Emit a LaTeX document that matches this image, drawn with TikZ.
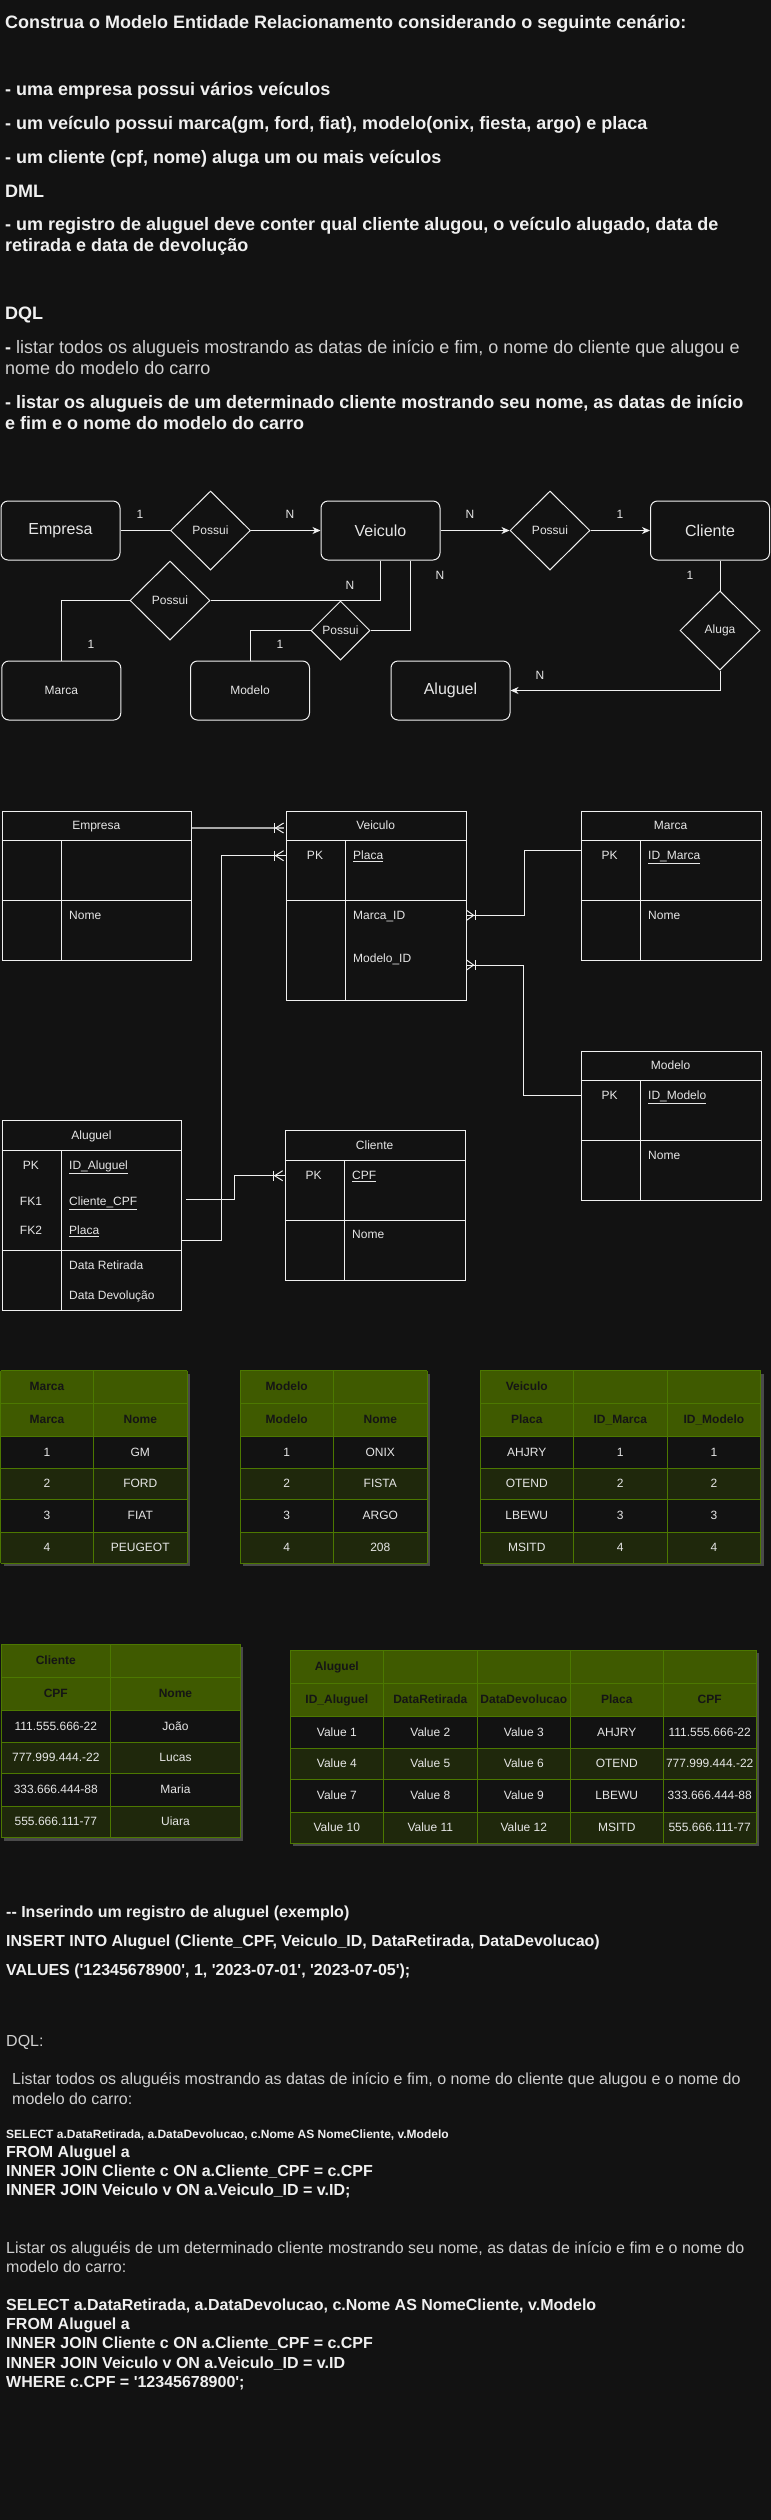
\documentclass[tikz,border=0pt]{standalone}
\usepackage{fontspec}
\setmainfont{Liberation Sans}
\usetikzlibrary{shapes.geometric,arrows.meta,calc}
\definecolor{bg}{HTML}{121212}
\definecolor{fg}{HTML}{F0F0F0}
\definecolor{greyln}{HTML}{A8A8A8}
\definecolor{txt}{HTML}{E6E6E6}
\definecolor{soft}{HTML}{D0D0D0}
\definecolor{hdr}{HTML}{3F5A00}
\definecolor{grid}{HTML}{4C7800}
\definecolor{alt}{HTML}{1F280C}
\definecolor{shad}{HTML}{4A4A4A}
\definecolor{hdrtxt}{HTML}{151515}
\newcommand\myq{\textquotesingle}
\newcommand\tabbody[9]{%
  \fill[shad] (#1+3,#3+3) rectangle (#2+3,#9+3);
  \fill[bg] (#1,#3) rectangle (#2,#9);
  \fill[hdr] (#1,#3) rectangle (#2,#5);
  \fill[alt] (#1,#6) rectangle (#2,#7);
  \fill[alt] (#1,#8) rectangle (#2,#9);
  \foreach \yy in {#3,#4,#5,#6,#7,#8,#9} \draw[gl] (#1,\yy) -- (#2,\yy);
}
\tikzset{
  big/.style={anchor=base west, inner sep=0, text=fg, font=\fontsize{18}{21}\selectfont\bfseries},
  bigr/.style={big, text=soft, font=\fontsize{18}{21}\selectfont},
  mid/.style={anchor=base west, inner sep=0, text=fg, font=\fontsize{16}{19}\selectfont\bfseries},
  midr/.style={mid, text=soft, font=\fontsize{16}{19}\selectfont},
  small/.style={anchor=base west, inner sep=0, text=fg, font=\fontsize{12}{14}\selectfont\bfseries},
  ent/.style={draw=fg, line width=1pt, rounded corners=7pt, minimum width=119pt, minimum height=59pt, inner sep=0, text=txt, font=\fontsize{16}{19}\selectfont},
  entsm/.style={ent, font=\fontsize{12}{14}\selectfont},
  rel/.style={diamond, draw=fg, line width=1pt, aspect=1, inner sep=0, minimum width=80pt, minimum height=79pt, text=txt, font=\fontsize{12}{14}\selectfont},
  conn/.style={draw=fg, line width=1pt},
  arr/.style={conn, -{Stealth[length=8pt,width=7pt,inset=2.5pt]}},
  card/.style={text=txt, font=\fontsize{12}{14}\selectfont, inner sep=0},
  tb/.style={draw=fg, line width=1pt, inner sep=0, anchor=north west},
  tl/.style={draw=fg, line width=1pt},
  tt/.style={text=txt, font=\fontsize{12}{14}\selectfont, inner sep=0, text height=8.5pt, text depth=1pt},
  ttl/.style={text=txt, font=\fontsize{12}{14}\selectfont, inner sep=0, anchor=base west},
  hcell/.style={text=hdrtxt, font=\fontsize{12}{14}\selectfont\bfseries, inner sep=0, text height=8.5pt, text depth=1pt},
  dcell/.style={text=txt, font=\fontsize{12}{14}\selectfont, inner sep=0, text height=8.5pt, text depth=1pt},
  gl/.style={draw=grid, line width=1pt},
  crowL/.pic={\draw[conn] (-2,-5) -- (-10,0) -- (-2,5); \draw[conn] (-11,-5) -- (-11,5);},
  crowR/.pic={\draw[conn] (0,-5) -- (7,0) -- (0,5); \draw[conn] (8.5,-5) -- (8.5,5);},
}
\begin{document}
\begin{tikzpicture}[x=1pt,y=-1pt]
\useasboundingbox (0,0) rectangle (771,2520);
\fill[bg] (0,0) rectangle (771,2520);

% ---------- top text ----------
\node[big] (t1) at (5,28.7) {Construa o Modelo Entidade Relacionamento considerando o seguinte cenário:};
\node[big] (t2) at (5,95) {- uma empresa possui vários veículos};
\node[big] (t3) at (5,129) {- um veículo possui marca(gm, ford, fiat), modelo(onix, fiesta, argo) e placa};
\node[big] (t4) at (5,163) {- um cliente (cpf, nome) aluga um ou mais veículos};
\node[big] (t5) at (5,197) {DML};
\node[big] (t6) at (5,230) {- um registro de aluguel deve conter qual cliente alugou, o veículo alugado, data de};
\node[big] (t7) at (5,251) {retirada e data de devolução};
\node[big] (t8) at (5,319) {DQL};
\node[bigr] (t9) at (5,353) {{\bfseries\color{fg}-} listar todos os alugueis mostrando as datas de início e fim, o nome do cliente que alugou e};
\node[bigr] (t10) at (5,374) {nome do modelo do carro};
\node[big] (t11) at (5,408) {- listar os alugueis de um determinado cliente mostrando seu nome, as datas de início};
\node[big] (t12) at (5,429) {e fim e o nome do modelo do carro};

% ---------- conceptual ER ----------
\node[ent] (emp) at (60.5,530.5) {Empresa};
\node[rel] (p1) at (210.5,530.5) {Possui};
\node[ent] (veic) at (380.5,530.5) {Veiculo};
\node[rel] (p2) at (550,530.5) {Possui};
\node[ent] (cli) at (710,530.5) {Cliente};
\node[rel] (p3) at (170,600.5) {Possui};
\node[rel, minimum width=59pt, minimum height=59pt] (p4) at (340.5,630.5) {Possui};
\node[rel] (aluga) at (720,630.5) {Aluga};
\node[entsm] (marca) at (61.3,690.5) {Marca};
\node[entsm] (modelo) at (250,690.5) {Modelo};
\node[ent] (alug) at (450.5,690.5) {Aluguel};

\draw[conn] (emp.east) -- (p1.west);
\draw[arr] (p1.east) -- (veic.west);
\draw[arr] (veic.east) -- (p2.west);
\draw[arr] (p2.east) -- (cli.west);
\draw[conn] (veic.south) |- (p3.east);
\draw[conn] ([xshift=30pt]veic.south) |- (p4.east);
\draw[conn] (p3.west) -| (marca.north);
\draw[conn] (p4.west) -| (modelo.north);
\draw[conn] (aluga.north) -- (aluga.north |- cli.south);
\draw[arr] (aluga.south) |- (alug.east);

\node[card] (c1) at (140,514) {1};
\node[card] (c2) at (290,514) {N};
\node[card] (c3) at (470,514) {N};
\node[card] (c4) at (620,514) {1};
\node[card] (c5) at (350,585) {N};
\node[card] (c6) at (440,575) {N};
\node[card] (c7) at (91,644) {1};
\node[card] (c8) at (280,644) {1};
\node[card] (c9) at (690,575) {1};
\node[card] (c10) at (540,675) {N};

% ---------- logical ER tables ----------
% Empresa
\node[tb, minimum width=189.5pt, minimum height=149.3pt] (tEmp) at (1.5,810.7) {};
\draw[tl] (1.5,840.3) -- (191,840.3);
\draw[tl] (1.5,900) -- (191,900);
\draw[tl] (61.5,840.3) -- (61.5,960);
\node[tt] (tEmpH) at (96.3,825.5) {Empresa};
\node[ttl] (tEmpN) at (69,919) {Nome};
% Veiculo
\node[tb, minimum width=180pt, minimum height=189.3pt] (tVei) at (285.6,810.7) {};
\draw[tl] (285.6,840.3) -- (465.6,840.3);
\draw[tl] (285.6,900) -- (465.6,900);
\draw[tl] (345.6,840.3) -- (345.6,1000);
\node[tt] (tVeiH) at (375.6,825.5) {Veiculo};
\node[tt] (tVeiPK) at (315,855.5) {PK};
\node[ttl] (tVeiP) at (353,859.5) {\underline{Placa}};
\node[ttl] (tVeiM) at (353,919) {Marca\_ID};
\node[ttl] (tVeiMo) at (353,962) {Modelo\_ID};
% Marca
\node[tb, minimum width=180pt, minimum height=149.3pt] (tMar) at (580.6,810.7) {};
\draw[tl] (580.6,840.3) -- (760.6,840.3);
\draw[tl] (580.6,900) -- (760.6,900);
\draw[tl] (640.6,840.3) -- (640.6,960);
\node[tt] (tMarH) at (670.6,825.5) {Marca};
\node[tt] (tMarPK) at (609.6,855.5) {PK};
\node[ttl] (tMarI) at (648,859.5) {\underline{ID\_Marca}};
\node[ttl] (tMarN) at (648,919) {Nome};
% Modelo
\node[tb, minimum width=180pt, minimum height=149.3pt] (tMod) at (580.6,1050.7) {};
\draw[tl] (580.6,1080.3) -- (760.6,1080.3);
\draw[tl] (580.6,1140.3) -- (760.6,1140.3);
\draw[tl] (640.6,1080.3) -- (640.6,1200);
\node[tt] (tModH) at (670.6,1065.5) {Modelo};
\node[tt] (tModPK) at (609.6,1095.5) {PK};
\node[ttl] (tModI) at (648,1099.5) {\underline{ID\_Modelo}};
\node[ttl] (tModN) at (648,1159) {Nome};
% Aluguel
\node[tb, minimum width=179.9pt, minimum height=190pt] (tAlu) at (1.5,1120.3) {};
\draw[tl] (1.5,1150.3) -- (181.4,1150.3);
\draw[tl] (1.5,1250.3) -- (181.4,1250.3);
\draw[tl] (61.5,1150.3) -- (61.5,1310.3);
\node[tt] (tAluH) at (91.5,1135.5) {Aluguel};
\node[tt] (tAluPK) at (31,1165.5) {PK};
\node[ttl] (tAluI) at (69,1169.5) {\underline{ID\_Aluguel}};
\node[tt] (tAluF1) at (31,1201.5) {FK1};
\node[ttl] (tAluC) at (69,1205.5) {\underline{Cliente\_CPF}};
\node[tt] (tAluF2) at (31,1230.5) {FK2};
\node[ttl] (tAluP) at (69,1234.5) {\underline{Placa}};
\node[ttl] (tAluDR) at (69,1269) {Data Retirada};
\node[ttl] (tAluDD) at (69,1299) {Data Devolução};
% Cliente
\node[tb, minimum width=179.9pt, minimum height=150pt] (tCli) at (284.7,1130.3) {};
\draw[tl] (284.7,1160.3) -- (464.6,1160.3);
\draw[tl] (284.7,1220.3) -- (464.6,1220.3);
\draw[tl] (344.6,1160.3) -- (344.6,1280.3);
\node[tt] (tCliH) at (374.6,1145.5) {Cliente};
\node[tt] (tCliPK) at (313.7,1175.5) {PK};
\node[ttl] (tCliC) at (352,1179.5) {\underline{CPF}};
\node[ttl] (tCliN) at (352,1238) {Nome};

% connectors
\draw[draw=greyln, line width=1.4pt] ($(tEmp.north east)+(0,17.3)$) -- ($(tVei.north west)+(-2,17.3)$);
\pic at ($(tVei.north west)+(0,17.3)$) {crowL};
\draw[conn] ($(tAlu.north east)+(0,119.7)$) -- ++(38.6,0) |- ($(tVei.north west)+(0,45)$);
\pic at ($(tVei.north west)+(0,45)$) {crowL};
\draw[conn] ($(tVei.north east)+(0,104.6)$) -- ++(58,0) |- ($(tMar.north west)+(0,40)$);
\pic at ($(tVei.north east)+(0,104.6)$) {crowR};
\draw[conn] ($(tVei.north east)+(0,154.3)$) -- ++(57,0) |- ($(tMod.north west)+(0,44.6)$);
\pic at ($(tVei.north east)+(0,154.3)$) {crowR};
\draw[conn] ($(tAlu.north east)+(4,79.4)$) -- ++(47.6,0) |- ($(tCli.north west)+(0,45.4)$);
\pic at ($(tCli.north west)+(0,45.4)$) {crowL};

% ---------- data tables ----------
% Marca
\tabbody{0.7}{187.3}{1370.7}{1403.3}{1436.7}{1468.3}{1499.3}{1532.3}{1563.3}
\foreach \xx in {0.7,93.3,187.3} \draw[gl] (\xx,1370.7) -- (\xx,1563.3);
\node[hcell] (dMarT) at (47,1387) {Marca};
\node[hcell] (dMarH1) at (47,1420) {Marca};
\node[hcell] (dMarH2) at (140.3,1420) {Nome};
\foreach \r/\a/\b [count=\k] in {1452.5/1/GM,1483.8/2/FORD,1515.8/3/FIAT,1547.8/4/PEUGEOT}{
  \node[dcell] (dMarA\k) at (47,\r) {\a};
  \node[dcell] (dMarB\k) at (140.3,\r) {\b};
}
% Modelo
\tabbody{240}{427.2}{1370.7}{1403.3}{1436.7}{1468.3}{1499.3}{1532.3}{1563.3}
\foreach \xx in {240,333.3,427.2} \draw[gl] (\xx,1370.7) -- (\xx,1563.3);
\node[hcell] (dModT) at (286.7,1387) {Modelo};
\node[hcell] (dModH1) at (286.7,1420) {Modelo};
\node[hcell] (dModH2) at (380.3,1420) {Nome};
\foreach \r/\a/\b [count=\k] in {1452.5/1/ONIX,1483.8/2/FISTA,1515.8/3/ARGO,1547.8/4/208}{
  \node[dcell] (dModA\k) at (286.7,\r) {\a};
  \node[dcell] (dModB\k) at (380.3,\r) {\b};
}
% Veiculo
\tabbody{480.3}{760.6}{1370.7}{1403.3}{1436.7}{1468.3}{1499.3}{1532.3}{1563.3}
\foreach \xx in {480.3,573.3,667.2,760.6} \draw[gl] (\xx,1370.7) -- (\xx,1563.3);
\node[hcell] (dVeiT) at (526.8,1387) {Veiculo};
\node[hcell] (dVeiH1) at (526.8,1420) {Placa};
\node[hcell] (dVeiH2) at (620.3,1420) {ID\_Marca};
\node[hcell] (dVeiH3) at (713.9,1420) {ID\_Modelo};
\foreach \r/\a/\b [count=\k] in {1452.5/AHJRY/1,1483.8/OTEND/2,1515.8/LBEWU/3,1547.8/MSITD/4}{
  \node[dcell] (dVeiA\k) at (526.8,\r) {\a};
  \node[dcell] (dVeiB\k) at (620.3,\r) {\b};
  \node[dcell] (dVeiC\k) at (713.9,\r) {\b};
}
% Cliente
\tabbody{1}{240.4}{1644.3}{1677.3}{1710.7}{1742.3}{1773.3}{1806}{1837.7}
\foreach \xx in {1,110.6,240.4} \draw[gl] (\xx,1644.3) -- (\xx,1837.7);
\node[hcell] (dCliT) at (55.8,1660.8) {Cliente};
\node[hcell] (dCliH1) at (55.8,1694) {CPF};
\node[hcell] (dCliH2) at (175.5,1694) {Nome};
\foreach \r/\a/\b [count=\k] in {1726.5/111.555.666-22/João,1757.8/777.999.444.-22/Lucas,1789.7/333.666.444-88/Maria,1821.9/555.666.111-77/Uiara}{
  \node[dcell] (dCliA\k) at (55.8,\r) {\a};
  \node[dcell] (dCliB\k) at (175.5,\r) {\b};
}
% Aluguel
\tabbody{290.3}{756}{1650.3}{1683.3}{1716.7}{1748.3}{1779.3}{1812.3}{1843.3}
\foreach \xx in {290.3,383.3,477.3,570.3,663.3,756} \draw[gl] (\xx,1650.3) -- (\xx,1843.3);
\node[hcell] (dAluT) at (336.8,1666.8) {Aluguel};
\node[hcell] (dAluH1) at (336.8,1700) {ID\_Aluguel};
\node[hcell] (dAluH2) at (430.3,1700) {DataRetirada};
\node[hcell] (dAluH3) at (523.8,1700) {DataDevolucao};
\node[hcell] (dAluH4) at (616.8,1700) {Placa};
\node[hcell] (dAluH5) at (709.7,1700) {CPF};
\foreach \r/\a/\b/\c/\d/\e [count=\k] in {1732.5/Value 1/Value 2/Value 3/AHJRY/111.555.666-22,1763.8/Value 4/Value 5/Value 6/OTEND/777.999.444.-22,1795.8/Value 7/Value 8/Value 9/LBEWU/333.666.444-88,1827.8/Value 10/Value 11/Value 12/MSITD/555.666.111-77}{
  \node[dcell] (dAluA\k) at (336.8,\r) {\a};
  \node[dcell] (dAluB\k) at (430.3,\r) {\b};
  \node[dcell] (dAluC\k) at (523.8,\r) {\c};
  \node[dcell] (dAluD\k) at (616.8,\r) {\d};
  \node[dcell] (dAluE\k) at (709.7,\r) {\e};
}

% ---------- bottom text ----------
\node[mid] (b1) at (6,1917) {-{}- Inserindo um registro de aluguel (exemplo)};
\node[mid] (b2) at (6,1946) {INSERT INTO Aluguel (Cliente\_CPF, Veiculo\_ID, DataRetirada, DataDevolucao)};
\node[mid] (b3) at (6,1975) {VALUES (\myq 12345678900\myq, 1, \myq 2023-07-01\myq, \myq 2023-07-05\myq);};
\node[midr] (b4) at (6,2046) {DQL:};
\node[midr] (b5) at (12,2084.5) {Listar todos os aluguéis mostrando as datas de início e fim, o nome do cliente que alugou e o nome do};
\node[midr] (b6) at (12,2104.3) {modelo do carro:};
\node[small] (b7) at (6,2138) {SELECT a.DataRetirada, a.DataDevolucao, c.Nome AS NomeCliente, v.Modelo};
\node[mid] (b8) at (6,2157) {FROM Aluguel a};
\node[mid] (b9) at (6,2176) {INNER JOIN Cliente c ON a.Cliente\_CPF = c.CPF};
\node[mid] (b10) at (6,2195) {INNER JOIN Veiculo v ON a.Veiculo\_ID = v.ID;};
\node[midr] (b11) at (6,2253) {Listar os aluguéis de um determinado cliente mostrando seu nome, as datas de início e fim e o nome do};
\node[midr] (b12) at (6,2272) {modelo do carro:};
\node[mid] (b13) at (6,2310) {SELECT a.DataRetirada, a.DataDevolucao, c.Nome AS NomeCliente, v.Modelo};
\node[mid] (b14) at (6,2329) {FROM Aluguel a};
\node[mid] (b15) at (6,2348.5) {INNER JOIN Cliente c ON a.Cliente\_CPF = c.CPF};
\node[mid] (b16) at (6,2368) {INNER JOIN Veiculo v ON a.Veiculo\_ID = v.ID};
\node[mid] (b17) at (6,2387) {WHERE c.CPF = \myq 12345678900\myq;};
\end{tikzpicture}
\end{document}
